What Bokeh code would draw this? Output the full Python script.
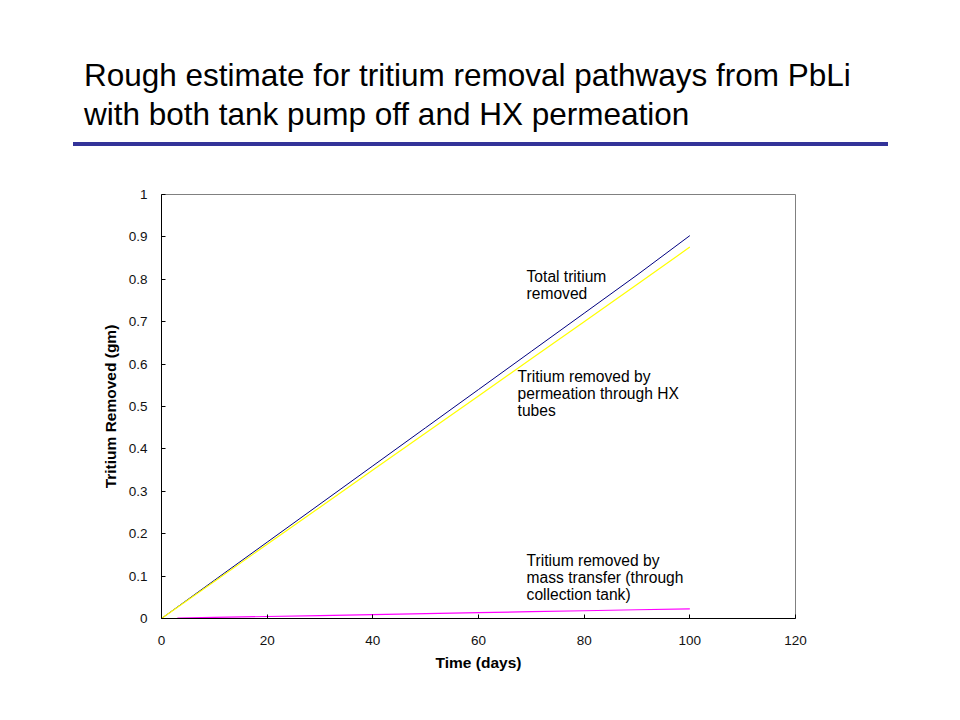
from bokeh.plotting import figure
from bokeh.layouts import column
from bokeh.models import Range1d, FixedTicker, Label, Div
from bokeh.embed import file_html
from bokeh.resources import INLINE

# ---- data ----
time_days = [0, 10, 20, 30, 40, 50, 60, 70, 80, 90, 100]
total_removed = [0.0, 0.09, 0.18, 0.27, 0.36, 0.45, 0.54, 0.63, 0.72, 0.81, 0.903]
permeation_removed = [0.0, 0.0875, 0.175, 0.2625, 0.35, 0.4375, 0.525, 0.6125, 0.70, 0.7875, 0.876]
mass_time = [3, 10, 20, 30, 40, 50, 60, 70, 80, 90, 100]
mass_removed = [0.001, 0.0025, 0.0047, 0.0069, 0.0092, 0.0115, 0.0138, 0.016, 0.0183, 0.0206, 0.0229]

x_ticks = [0, 20, 40, 60, 80, 100, 120]
y_ticks = [0, 0.1, 0.2, 0.3, 0.4, 0.5, 0.6, 0.7, 0.8, 0.9, 1]
y_tick_labels = ["0", "0.1", "0.2", "0.3", "0.4", "0.5", "0.6", "0.7", "0.8", "0.9", "1"]

title_lines = ["Rough estimate for tritium removal pathways from PbLi",
               "with both tank pump off and HX permeation"]
note_total = ["Total tritium", "removed"]
note_perm = ["Tritium removed by", "permeation through HX", "tubes"]
note_mass = ["Tritium removed by", "mass transfer (through", "collection tank)"]

FONT = "Liberation Sans"
W = 944
HEAD_H = 184

# ---- slide header: title text + blue rule ----
head_html = (
    f'<div style="position:relative;width:{W}px;height:{HEAD_H}px;background:white;margin:0;padding:0;">'
    f'<div style="position:absolute;left:84px;top:55.5px;font-family:\'{FONT}\';font-size:31.5px;'
    f'line-height:39.5px;color:black;white-space:nowrap;">'
    f'{title_lines[0]}<br>{title_lines[1]}</div>'
    f'<div style="position:absolute;left:73px;top:142px;width:815px;height:4px;background:#333399;"></div>'
    f'</div>'
)
head = Div(text=head_html, width=W, height=HEAD_H, margin=0)

# ---- chart ----
p = figure(width=W, height=704 - HEAD_H, output_backend="svg", toolbar_location=None,
           x_range=Range1d(0, 120), y_range=Range1d(0, 1),
           min_border_left=161, min_border_right=149, min_border_top=10, min_border_bottom=86)
p.xgrid.visible = False
p.ygrid.visible = False
p.background_fill_color = "white"
p.border_fill_color = "white"
p.outline_line_color = "#808080"
p.outline_line_width = 1

for ax in (p.xaxis[0], p.yaxis[0]):
    ax.axis_line_color = "black"
    ax.major_tick_line_color = "black"
    ax.major_tick_in = 4
    ax.major_tick_out = 0
    ax.minor_tick_line_color = None
    ax.major_label_text_font = FONT
    ax.major_label_text_font_size = "13.5px"
    ax.major_label_text_color = "#111111"
    ax.axis_label_text_font = FONT
    ax.axis_label_text_font_size = "15.5px"
    ax.axis_label_text_font_style = "bold"
    ax.axis_label_text_color = "black"

p.xaxis.ticker = FixedTicker(ticks=x_ticks)
p.yaxis.ticker = FixedTicker(ticks=y_ticks)
p.yaxis.major_label_overrides = {t: s for t, s in zip(y_ticks, y_tick_labels)}
p.xaxis.axis_label = "Time (days)"
p.yaxis.axis_label = "Tritium Removed (gm)"
p.xaxis.major_label_standoff = 17
p.yaxis.major_label_standoff = 14
p.xaxis.axis_label_standoff = 6
p.yaxis.axis_label_standoff = 7

p.line(time_days, total_removed, line_color="#000080", line_width=1)
p.line(time_days, permeation_removed, line_color="#FFFF00", line_width=1.2)
p.line(mass_time, mass_removed, line_color="#FF00FF", line_width=1.2)

# in-plot notes
def add_note(lines, x, y0, step):
    for i, t in enumerate(lines):
        p.add_layout(Label(x=x, y=y0 - i * step, text=t, text_font=FONT,
                           text_font_size="15.6px", text_color="black",
                           text_baseline="alphabetic", text_align="left"))

add_note(note_total, 69.1, 0.8066, 0.0401)
add_note(note_perm, 67.4, 0.5708, 0.0401)
add_note(note_mass, 69.1, 0.1368, 0.0401)

layout = column(head, p, spacing=0)
open("out.html", "w").write(file_html(layout, INLINE))
